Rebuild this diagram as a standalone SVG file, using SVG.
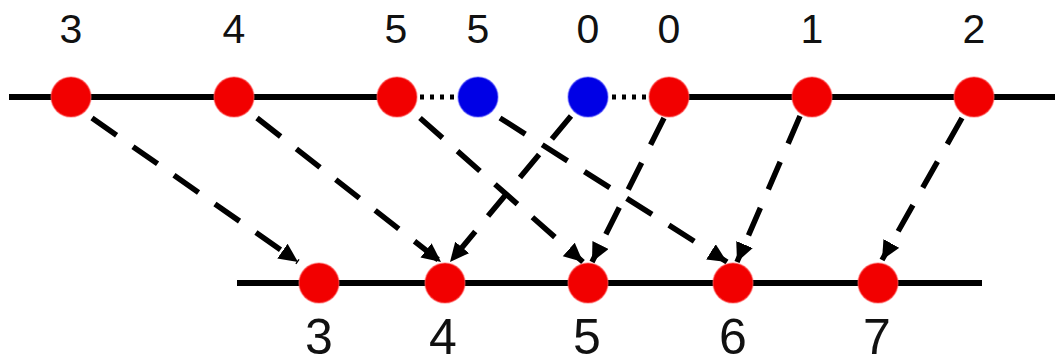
<svg xmlns="http://www.w3.org/2000/svg" width="1055" height="364" viewBox="0 0 1055 364">
<style>
.axis{stroke:#000;stroke-width:6;fill:none}
.dot{stroke:#000;stroke-width:5;stroke-dasharray:4 6;fill:none}
.red{fill:#f20000;stroke:#ff6060;stroke-width:1.5;stroke-opacity:0.5}
.blue{fill:#0000e6;stroke:#6060ff;stroke-width:1.5;stroke-opacity:0.5}
.lt{font-family:"Liberation Sans",Arial,sans-serif;font-size:41px;fill:#111;text-anchor:middle}
.lb{font-family:"Liberation Sans",Arial,sans-serif;font-size:50px;fill:#111;text-anchor:middle}
.arr{stroke:#000;stroke-width:5.5;stroke-dasharray:30 20;fill:none;marker-end:url(#ah)}
</style>
<defs>
<marker id="ah" markerUnits="userSpaceOnUse" markerWidth="22" markerHeight="20" refX="19" refY="9" orient="auto">
<path d="M0,0 L19,9 L0,18 Z" fill="#000"/>
</marker>
</defs>
<rect width="1055" height="364" fill="#fff"/>
<g id="axes">
<line class="axis" x1="9" y1="97" x2="397" y2="97"/>
<line class="axis" x1="669" y1="97" x2="1055" y2="97"/>
<line class="dot" x1="420" y1="97" x2="456" y2="97"/>
<line class="dot" x1="612" y1="97" x2="648" y2="97"/>
<line class="axis" x1="237" y1="283" x2="982" y2="283"/>
</g>
<g id="connectors">
<line class="arr" x1="92" y1="118" x2="298" y2="262"/>
<line class="arr" x1="257" y1="118" x2="441" y2="262"/>
<line class="arr" x1="420" y1="118" x2="583" y2="262"/>
<line class="arr" x1="500" y1="118" x2="727" y2="262"/>
<line class="arr" x1="571" y1="116" x2="450" y2="262"/>
<line class="arr" x1="664" y1="118" x2="592" y2="262"/>
<line class="arr" x1="800" y1="116" x2="737" y2="262"/>
<line class="arr" x1="962" y1="118" x2="882" y2="260"/>
</g>
<g id="t3"><circle class="red" cx="71" cy="97" r="20"/><text class="lt" x="71" y="43">3</text></g>
<g id="t4"><circle class="red" cx="234" cy="97" r="20"/><text class="lt" x="234" y="43">4</text></g>
<g id="t5"><circle class="red" cx="397" cy="97" r="20"/><text class="lt" x="396" y="43">5</text></g>
<g id="t5b"><circle class="blue" cx="478" cy="97" r="20"/><text class="lt" x="478" y="43">5</text></g>
<g id="t0b"><circle class="blue" cx="588" cy="97" r="20"/><text class="lt" x="588" y="43">0</text></g>
<g id="t0"><circle class="red" cx="669" cy="97" r="20"/><text class="lt" x="669" y="43">0</text></g>
<g id="t1"><circle class="red" cx="812" cy="97" r="20"/><text class="lt" x="812" y="43">1</text></g>
<g id="t2"><circle class="red" cx="974" cy="97" r="20"/><text class="lt" x="974" y="43">2</text></g>
<g id="b3"><circle class="red" cx="319" cy="283" r="20"/><text class="lb" x="319" y="354">3</text></g>
<g id="b4"><circle class="red" cx="445" cy="283" r="20"/><text class="lb" x="443" y="354">4</text></g>
<g id="b5"><circle class="red" cx="588" cy="283" r="20"/><text class="lb" x="587" y="354">5</text></g>
<g id="b6"><circle class="red" cx="733" cy="283" r="20"/><text class="lb" x="733" y="354">6</text></g>
<g id="b7"><circle class="red" cx="878" cy="283" r="20"/><text class="lb" x="877" y="354">7</text></g>
</svg>
